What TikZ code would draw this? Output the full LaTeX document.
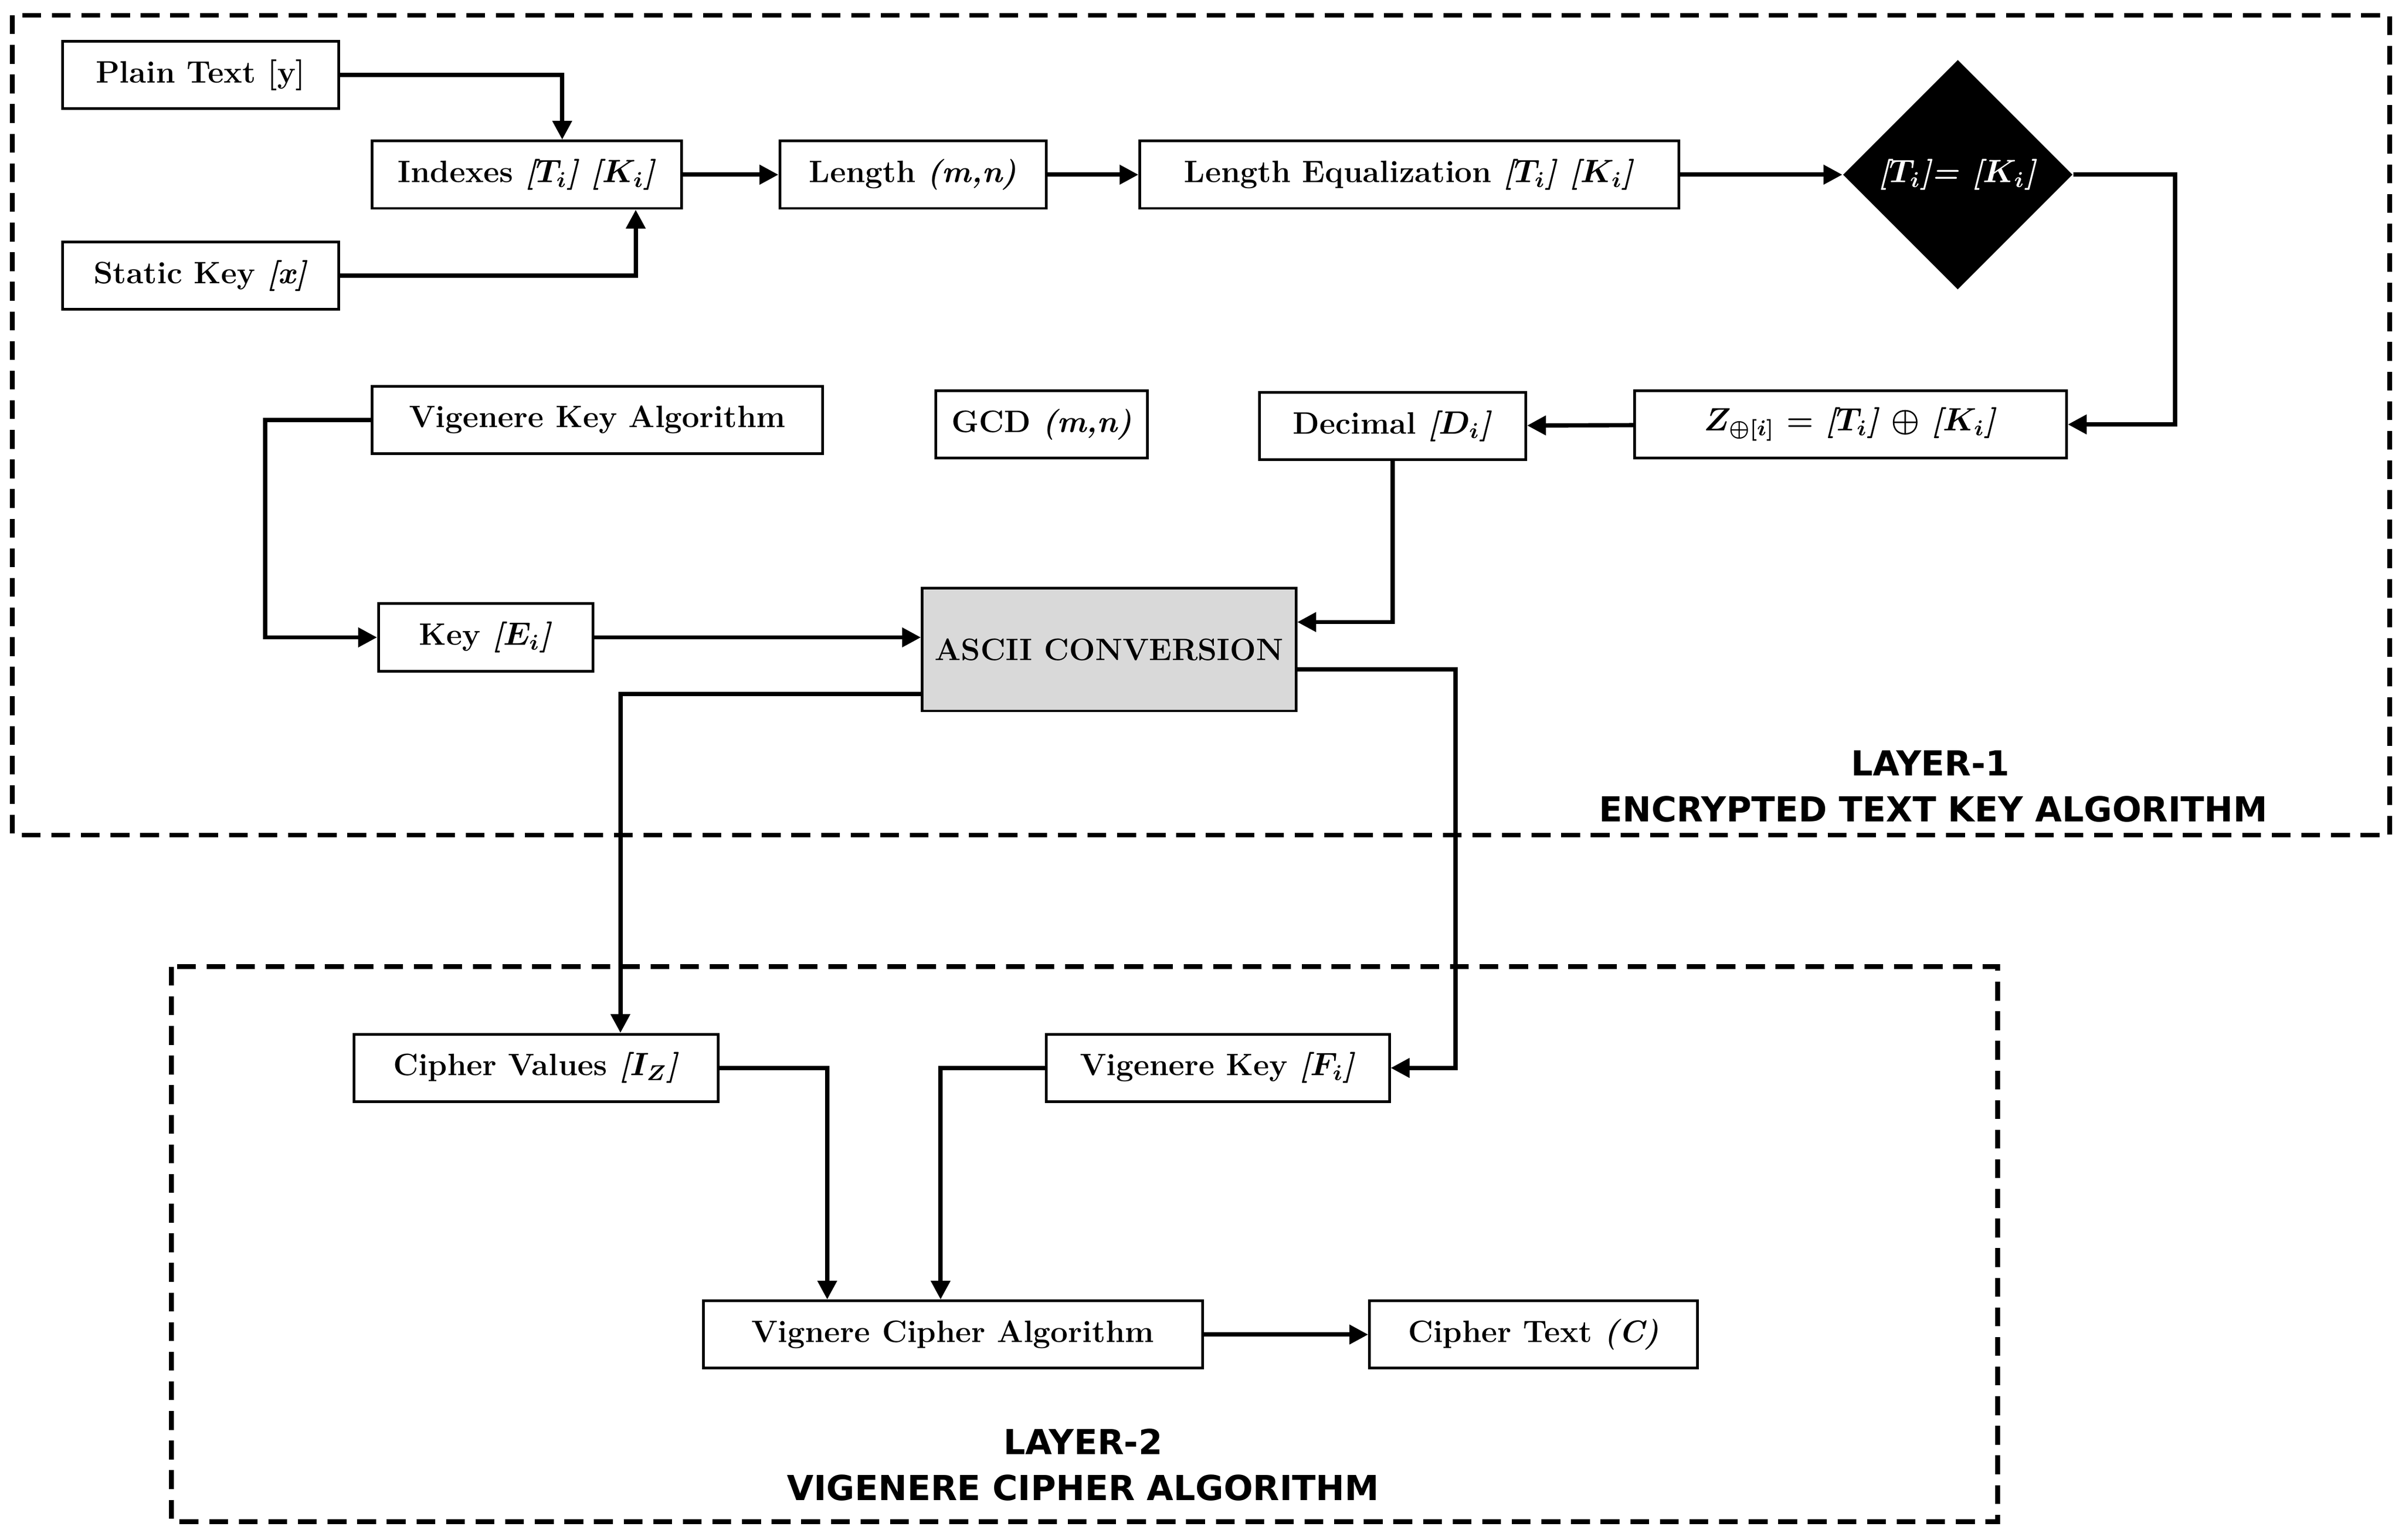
\documentclass[tikz,border=0pt]{standalone}
\usepackage{amsmath,amssymb}
\usepackage{fontspec}
\newfontfamily\layerfont{DejaVu Sans}
\usetikzlibrary{positioning,arrows.meta,shapes.geometric}
\tikzset{
  blk/.style={draw,line width=1pt,minimum height=0.88cm,inner sep=2pt,
    font=\fontsize{11.5}{13}\selectfont\bfseries\boldmath},
  arr/.style={line width=1.6pt,-{Triangle[length=7pt,width=7pt]}},
  layer/.style={draw,line width=1.8pt,dash pattern=on 7pt off 4pt},
  lbl/.style={font=\layerfont\fontsize{12.8}{15}\selectfont\bfseries}
}
\begin{document}
\begin{tikzpicture}[x=0.02cm,y=-0.02cm]
        \useasboundingbox (0,0) rectangle (1568,1005);
        % Layers
        \draw[layer] (8,10) rectangle (1560,545);
        \draw[layer] (112,631) rectangle (1304,993);
        \node[lbl] (l1a) at (1260,498) {LAYER-1};
        \node[lbl] (l1b) at (1262,528) {ENCRYPTED TEXT KEY ALGORITHM};
        \node[lbl] (l2a) at (707,941) {LAYER-2};
        \node[lbl] (l2b) at (707,971) {VIGENERE CIPHER ALGORITHM};
        % Layer 1 blocks
        \node[blk,minimum width=3.6cm] (plain) at (131,49) {Plain Text [y]};
        \node[blk,minimum width=3.6cm] (static) at (131,180) {Static Key \textit{[x]}};
        \node[blk,minimum width=4.04cm] (idx) at (344,114) {Indexes \textit{[$T_i$] [$K_i$]}};
        \node[blk,minimum width=3.48cm] (len) at (596,114) {Length \textit{(m,n)}};
        \node[blk,minimum width=7.04cm] (leq) at (920,114) {Length Equalization \textit{[$T_i$] [$K_i$]}};
        \node[diamond,fill=black,text=white,minimum width=3cm,minimum height=3cm,inner sep=0pt,
          font=\fontsize{11.5}{13}\selectfont\bfseries\boldmath] (eq) at (1278,114) {\textit{[$T_i$]= [$K_i$]}};
        \node[blk,minimum width=5.64cm] (zor) at (1208,277) {\textit{$Z_{\oplus[i]}$} = \textit{[$T_i$]} $\oplus$ \textit{[$K_i$]}};
        \node[blk,minimum width=3.48cm] (dec) at (909,278) {Decimal \textit{[$D_i$]}};
        \node[blk,minimum width=2.76cm] (gcd) at (680,277) {GCD \textit{(m,n)}};
        \node[blk,minimum width=5.88cm] (vka) at (390,274) {Vigenere Key Algorithm};
        \node[blk,minimum width=2.8cm] (keye) at (317,416) {Key \textit{[$E_i$]}};
        \node[blk,fill=gray!30,minimum width=4.88cm,minimum height=1.6cm] (ascii) at (724,424) {ASCII CONVERSION};
        % Layer 2 blocks
        \node[blk,minimum width=4.76cm] (cv) at (350,697) {Cipher Values \textit{[$I_Z$]}};
        \node[blk,minimum width=4.48cm] (vk) at (795,697) {Vigenere Key \textit{[$F_i$]}};
        \node[blk,minimum width=6.52cm] (vca) at (622,871) {Vignere Cipher Algorithm};
        \node[blk,minimum width=4.28cm] (ct) at (1001,871) {Cipher Text \textit{(C)}};
        % Connectors
        \coordinate (c1) at (367,0);
        \coordinate (c2) at (415,0);
        \coordinate (c3) at (1420,0);
        \coordinate (c4) at (173,0);
        \coordinate (c5) at (405,0);
        \coordinate (c6) at (950,0);
        \coordinate (c7) at (540,0);
        \coordinate (c8) at (614,0);
        \draw[arr] (plain.east) -| (idx.north -| c1);
        \draw[arr] (static.east) -| (idx.south -| c2);
        \draw[arr] (idx) -- (len);
        \draw[arr] (len) -- (leq);
        \draw[arr] (leq) -- (eq);
        \draw[arr] (eq.east) -- (eq.east -| c3) |- (zor.east);
        \draw[arr] (zor) -- (dec);
        \draw[arr] (dec.south) |- ([yshift=0.36cm]ascii.east);
        \draw[arr] (vka.west) -- (vka.west -| c4) |- (keye.west);
        \draw[arr] (keye.east) -- (keye.east -| ascii.west);
        \draw[arr] ([yshift=-0.58cm]ascii.west) -| (cv.north -| c5);
        \draw[arr] ([yshift=-0.26cm]ascii.east) -- ([yshift=-0.26cm]ascii.east -| c6) |- (vk.east);
        \draw[arr] (cv.east) -| (vca.north -| c7);
        \draw[arr] (vk.west) -| (vca.north -| c8);
        \draw[arr] (vca) -- (ct);
\end{tikzpicture}
\end{document}
